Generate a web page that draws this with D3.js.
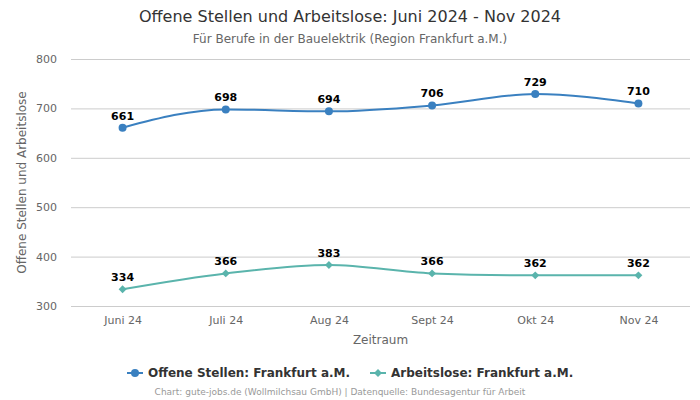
<!DOCTYPE html>
<html><head><meta charset="utf-8">
<script src="https://cdn.jsdelivr.net/npm/d3@7"></script>
<style>body{margin:0;background:#fff}svg{font-family:"DejaVu Sans",sans-serif}</style>
</head><body><svg id="c" width="700" height="400"></svg>
<script>
const categories = ["Juni 24","Juli 24","Aug 24","Sept 24","Okt 24","Nov 24"];
const offeneStellen = [661,698,694,706,729,710];
const arbeitslose = [334,366,383,366,362,362];
const yTicks = [300,400,500,600,700,800];
const seriesNames = ["Offene Stellen: Frankfurt a.M.","Arbeitslose: Frankfurt a.M."];
const colors = ["#3a80c0","#5ab4ac"];

const svg = d3.select("#c");
const L=71,R=690,T=59,B=306;
const x = d3.scalePoint().domain(categories).range([L,R]).padding(0.5);
const y = d3.scaleLinear().domain([300,800]).range([B,T]);

svg.append("text").attr("x",350).attr("y",22).attr("text-anchor","middle").attr("font-size",16).attr("fill","#333").text("Offene Stellen und Arbeitslose: Juni 2024 - Nov 2024");
svg.append("text").attr("x",350).attr("y",43).attr("text-anchor","middle").attr("font-size",12).attr("fill","#666").text("Für Berufe in der Bauelektrik (Region Frankfurt a.M.)");

const ga = svg.append("g").attr("transform",`translate(${L},0)`)
  .call(d3.axisLeft(y).tickValues(yTicks).tickSize(-(R-L)).tickPadding(14));
ga.select(".domain").remove();
ga.selectAll(".tick line").attr("stroke","#ccc");
ga.selectAll(".tick text").attr("font-size",11).attr("fill","#666").attr("font-family","DejaVu Sans, sans-serif");

const gx = svg.append("g").attr("transform",`translate(0,${B})`).call(d3.axisBottom(x).tickSize(0).tickPadding(10));
gx.select(".domain").remove();
gx.selectAll(".tick text").attr("font-size",11).attr("fill","#666").attr("font-family","DejaVu Sans, sans-serif");

svg.append("text").attr("x",(L+R)/2).attr("y",344).attr("text-anchor","middle").attr("font-size",12).attr("fill","#666").text("Zeitraum");
svg.append("text").attr("transform",`translate(26,${(T+B)/2}) rotate(-90)`).attr("text-anchor","middle").attr("font-size",12).attr("fill","#666").text("Offene Stellen und Arbeitslose");

const line = d3.line().x((d,i)=>x(categories[i])).y(d=>y(d)).curve(d3.curveMonotoneX);
[offeneStellen,arbeitslose].forEach((s,k)=>{
  svg.append("path").datum(s).attr("d",line).attr("fill","none").attr("stroke",colors[k]).attr("stroke-width",2);
  const g = svg.append("g");
  s.forEach((v,i)=>{
    const cx=x(categories[i]), cy=y(v);
    if(k===0) g.append("circle").attr("cx",cx).attr("cy",cy).attr("r",4).attr("fill",colors[k]);
    else g.append("path").attr("d",d3.symbol(d3.symbolDiamond2,40)()).attr("transform",`translate(${cx},${cy})`).attr("fill",colors[k]);
    g.append("text").attr("x",cx).attr("y",cy-8).attr("text-anchor","middle").attr("font-size",11).attr("font-weight","bold").attr("fill","#000").text(v);
  });
});

// legend
const lg = svg.append("g");
const items=[{x:127,name:seriesNames[0]},{x:370,name:seriesNames[1]}];
items.forEach((it,k)=>{
  lg.append("line").attr("x1",it.x).attr("x2",it.x+16).attr("y1",373).attr("y2",373).attr("stroke",colors[k]).attr("stroke-width",2);
  if(k===0) lg.append("circle").attr("cx",it.x+8).attr("cy",373).attr("r",4).attr("fill",colors[k]);
  else lg.append("path").attr("d",d3.symbol(d3.symbolDiamond2,40)()).attr("transform",`translate(${it.x+8},373)`).attr("fill",colors[k]);
  lg.append("text").attr("x",it.x+21).attr("y",377).attr("font-size",12).attr("font-weight","bold").attr("fill","#333").text(it.name);
});
svg.append("text").attr("x",340).attr("y",395).attr("text-anchor","middle").attr("font-size",9).attr("fill","#999").text("Chart: gute-jobs.de (Wollmilchsau GmbH) | Datenquelle: Bundesagentur für Arbeit");
</script></body></html>
